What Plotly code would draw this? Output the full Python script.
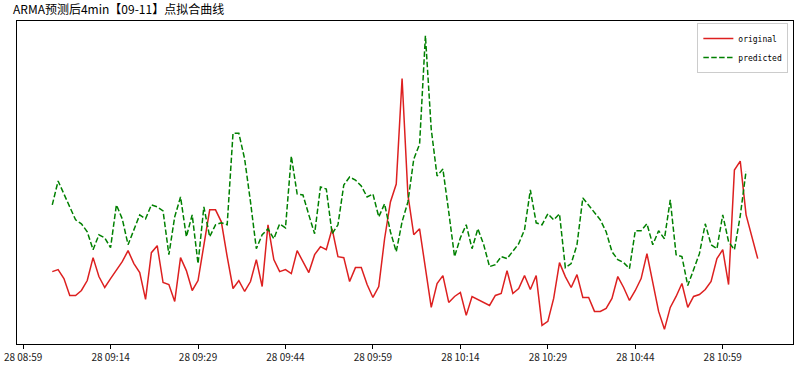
import pandas as pd
import plotly.graph_objects as go

# values (arbitrary units, per minute from 09:04)
START = "2018-09-28 09:04"
original = [80, 82, 73, 56, 56, 61, 71, 94, 75, 64, 73, 82, 90, 101, 88, 79, 52, 99, 106, 69,
            67, 50, 94, 81, 61, 71, 105, 142, 142, 130, 95, 63, 71, 60, 70, 92, 65, 127, 92, 80,
            82, 78, 101, 90, 79, 97, 105, 102, 123, 95, 94, 70, 84, 84, 67, 54, 65, 113, 150, 168,
            274, 157, 117, 123, 84, 44, 68, 76, 49, 55, 59, 36, 55, 52, 49, 46, 56, 58, 81, 58,
            63, 76, 62, 76, 26, 30, 53, 89, 75, 64, 77, 54, 54, 40, 40, 43, 53, 75, 64, 51,
            61, 73, 98, 68, 40, 22, 44, 55, 68, 44, 55, 57, 62, 70, 93, 102, 67, 182, 191, 137,
            115, 93]
predicted = [147, 171, 158, 145, 132, 128, 120, 102, 117, 114, 104, 147, 133, 107, 123, 137, 133, 147, 145, 141,
             97, 135, 155, 115, 137, 88, 145, 115, 127, 129, 127, 219, 219, 193, 150, 103, 117, 123, 113, 128,
             124, 196, 158, 157, 137, 118, 165, 163, 118, 127, 167, 175, 172, 166, 155, 158, 135, 148, 120, 100,
             130, 150, 193, 208, 317, 223, 176, 183, 140, 95, 114, 127, 103, 123, 107, 85, 87, 95, 93, 100,
             108, 122, 162, 129, 127, 138, 132, 138, 84, 88, 107, 154, 147, 140, 132, 120, 100, 92, 89, 83,
             121, 121, 128, 107, 121, 113, 152, 97, 95, 66, 82, 98, 128, 107, 103, 137, 110, 102, 136, 181]

t_orig = pd.date_range(START, periods=len(original), freq="min")
t_pred = pd.date_range(START, periods=len(predicted), freq="min")

# matplotlib-like 5% margins
t0, t1 = t_orig[0], max(t_orig[-1], t_pred[-1])
tpad = (t1 - t0) * 0.05
lo = min(min(original), min(predicted))
hi = max(max(original), max(predicted))
ypad = (hi - lo) * 0.05

fig = go.Figure()
fig.add_trace(go.Scatter(x=t_orig, y=original, mode="lines", name="original",
    line=dict(color="#dd2020", width=1.5)))
fig.add_trace(go.Scatter(x=t_pred, y=predicted, mode="lines", name="predicted",
    line=dict(color="#008000", width=1.5, dash="5.5px,2.4px")))

fig.update_layout(
    width=798, height=368, template="plotly_white",
    margin=dict(l=13, r=4, t=21, b=24),
    plot_bgcolor="white", paper_bgcolor="white",
    title=dict(text="ARMA预测后4min【09-11】点拟合曲线", x=13 / 798, xanchor="left",
               y=1 - 10 / 368, yanchor="middle",
               font=dict(family="Noto Sans CJK SC", size=12, color="black")),
    legend=dict(x=0.994, y=0.994, xanchor="right", yanchor="top",
                bgcolor="rgba(255,255,255,0.9)", bordercolor="#cccccc", borderwidth=1,
                font=dict(family="DejaVu Sans Mono", size=8, color="black"),
                itemwidth=30, tracegroupgap=0),
    font=dict(family="Noto Sans CJK SC", size=10, color="black"),
)
fig.update_xaxes(range=[t0 - tpad, t1 + tpad], tickformat="%d %H:%M",
    tick0="2018-09-28 08:59", dtick=15 * 60 * 1000, ticks="outside", ticklen=4,
    tickcolor="black", showgrid=False, zeroline=False, showline=True,
    linecolor="black", linewidth=1, mirror=True, ticklabeloverflow="allow",
    tickfont=dict(family="Noto Sans CJK SC", size=10, color="#222222"))
fig.update_yaxes(range=[lo - ypad, hi + ypad], showticklabels=False, ticks="",
    showgrid=False, zeroline=False, showline=True, linecolor="black",
    linewidth=1, mirror=True)

# the page body has a default 8px margin; drop it so the figure fills the window
fig.write_html("out.html", config={"displayModeBar": False},
               post_script="document.body.style.margin='0';")
